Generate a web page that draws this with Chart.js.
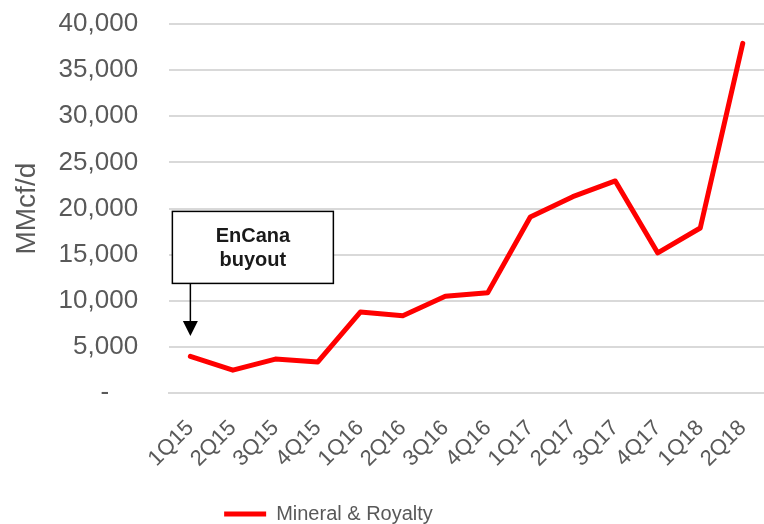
<!DOCTYPE html>
<html>
<head>
<meta charset="utf-8">
<script src="https://cdn.jsdelivr.net/npm/chart.js@4"></script>
<style>
  html, body { margin: 0; padding: 0; background: #fff; }
  #wrap { width: 764px; height: 524px; }
</style>
</head>
<body>
<div id="wrap"><canvas id="myChart"></canvas></div>
<script>
const quarters = ["1Q15","2Q15","3Q15","4Q15","1Q16","2Q16","3Q16","4Q16","1Q17","2Q17","3Q17","4Q17","1Q18","2Q18"]
const mineralRoyalty = [4000,2500,3700,3400,8800,8400,10500,10900,19100,21300,23000,15200,17900,37900]
const yTicks = [0,5000,10000,15000,20000,25000,30000,35000,40000]

const sans = "'Liberation Sans', Arial, sans-serif"
const grey = "#595959"

// box + arrow for the EnCana note, hung off the first quarter
const noteBox = {
    id: "noteBox",
    afterDatasetsDraw(chart) {
        const ctx = chart.ctx
        const x = chart.scales.x
        const y = chart.scales.y
        const px = x.getPixelForValue(0)
        const left = px - 18, right = px + 143
        const top = y.getPixelForValue(19700), bottom = y.getPixelForValue(11900)
        const tip = y.getPixelForValue(6200)
        ctx.save()
        ctx.fillStyle = "#fff"
        ctx.fillRect(left, top, right - left, bottom - top)
        ctx.strokeStyle = "#000"
        ctx.lineWidth = 1.5
        ctx.strokeRect(left, top, right - left, bottom - top)
        ctx.beginPath()
        ctx.moveTo(px, bottom)
        ctx.lineTo(px, tip - 12)
        ctx.stroke()
        ctx.beginPath()
        ctx.moveTo(px - 7.5, tip - 15)
        ctx.lineTo(px + 7.5, tip - 15)
        ctx.lineTo(px, tip)
        ctx.closePath()
        ctx.fillStyle = "#000"
        ctx.fill()
        ctx.fillStyle = "#1a1a1a"
        ctx.font = "bold 20px " + sans
        ctx.textAlign = "center"
        ctx.textBaseline = "middle"
        const cx = (left + right) / 2, cy = (top + bottom) / 2
        ctx.fillText("EnCana", cx, cy - 11)
        ctx.fillText("buyout", cx, cy + 13)
        ctx.restore()
    }
}

// legend sits left of centre in the original
const legendShift = {
    id: "legendShift",
    afterLayout(chart) {
        chart.legend.left -= 66
        chart.legend.right -= 66
    }
}

let chart = new Chart(document.querySelector("#myChart").getContext("2d"), {
    type: "line",
    data: {
        labels: quarters,
        datasets: [{
            label: "Mineral & Royalty",
            data: mineralRoyalty,
            borderColor: "#ff0000",
            backgroundColor: "#ff0000",
            borderWidth: 5,
            borderCapStyle: "round",
            borderJoinStyle: "round",
            pointRadius: 0,
            tension: 0
        }]
    },
    options: {
        responsive: true,
        maintainAspectRatio: false,
        animation: false,
        layout: { padding: { top: 24, left: 10, right: -15, bottom: -10 } },
        plugins: {
            legend: {
                position: "bottom",
                labels: {
                    usePointStyle: true,
                    pointStyle: "line",
                    pointStyleWidth: 42,
                    color: grey,
                    font: { family: sans, size: 20 },
                    padding: 2
                }
            },
            tooltip: { enabled: false }
        },
        scales: {
            x: {
                offset: true,
                afterFit(axis) { axis.height += 30 },
                grid: { display: true, drawOnChartArea: false, drawTicks: true, tickLength: 22, tickColor: "rgba(0,0,0,0)" },
                border: { color: "#d9d9d9", width: 2 },
                ticks: {
                    color: grey,
                    font: { family: sans, size: 22 },
                    autoSkip: false,
                    minRotation: 45,
                    maxRotation: 45,
                    padding: 0
                }
            },
            y: {
                min: 0,
                max: 40000,
                afterBuildTicks(axis) { axis.ticks = yTicks.map(v => ({ value: v })) },
                grid: { color: "#d9d9d9", lineWidth: 2, drawTicks: true, tickLength: 28, tickColor: "rgba(0,0,0,0)" },
                border: { display: false },
                title: {
                    display: true,
                    text: "MMcf/d",
                    color: grey,
                    font: { family: sans, size: 28 },
                    padding: { top: 0, bottom: 12 }
                },
                ticks: {
                    color: grey,
                    font: { family: sans, size: 26 },
                    padding: 3,
                    callback: v => v === 0 ? "-    " : v.toLocaleString("en-US")
                }
            }
        }
    },
    plugins: [noteBox, legendShift]
});
</script>
</body>
</html>
